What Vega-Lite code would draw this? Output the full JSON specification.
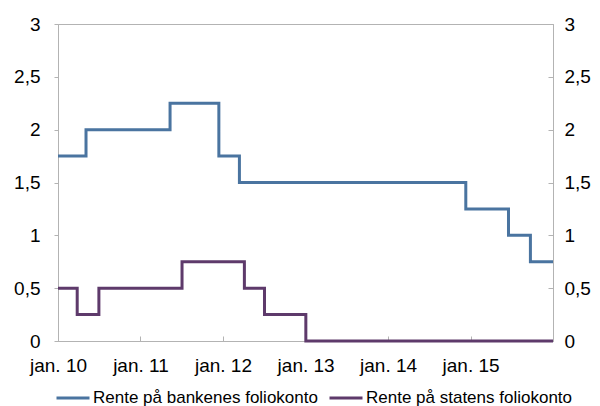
{
  "$schema": "https://vega.github.io/schema/vega-lite/v6.json",
  "autosize": {"type": "none"},
  "width": 495,
  "height": 317,
  "padding": {"left": 58, "top": 24, "right": 47, "bottom": 65},
  "data": {
    "values": [
      {"date": "2010-01-01", "rate": 1.75, "series": "Rente på bankenes foliokonto"},
      {"date": "2010-05-05", "rate": 2.0, "series": "Rente på bankenes foliokonto"},
      {"date": "2011-05-12", "rate": 2.25, "series": "Rente på bankenes foliokonto"},
      {"date": "2011-12-14", "rate": 1.75, "series": "Rente på bankenes foliokonto"},
      {"date": "2012-03-14", "rate": 1.5, "series": "Rente på bankenes foliokonto"},
      {"date": "2014-12-11", "rate": 1.25, "series": "Rente på bankenes foliokonto"},
      {"date": "2015-06-18", "rate": 1.0, "series": "Rente på bankenes foliokonto"},
      {"date": "2015-09-23", "rate": 0.75, "series": "Rente på bankenes foliokonto"},
      {"date": "2016-01-01", "rate": 0.75, "series": "Rente på bankenes foliokonto"},
      {"date": "2010-01-01", "rate": 0.5, "series": "Rente på statens foliokonto"},
      {"date": "2010-03-27", "rate": 0.25, "series": "Rente på statens foliokonto"},
      {"date": "2010-07-01", "rate": 0.5, "series": "Rente på statens foliokonto"},
      {"date": "2011-07-04", "rate": 0.75, "series": "Rente på statens foliokonto"},
      {"date": "2012-04-05", "rate": 0.5, "series": "Rente på statens foliokonto"},
      {"date": "2012-07-03", "rate": 0.25, "series": "Rente på statens foliokonto"},
      {"date": "2013-01-02", "rate": 0.0, "series": "Rente på statens foliokonto"},
      {"date": "2016-01-01", "rate": 0.0, "series": "Rente på statens foliokonto"}
    ]
  },
  "config": {
    "font": "Liberation Sans",
    "view": {"stroke": "#b3b3b3", "strokeWidth": 1},
    "axis": {
      "grid": false,
      "domainColor": "#b3b3b3",
      "tickColor": "#b3b3b3",
      "labelColor": "#000000",
      "labelFont": "Liberation Sans",
      "labelFontSize": 19,
      "title": null
    }
  },
  "encoding": {
    "x": {
      "field": "date",
      "type": "temporal",
      "scale": {"domain": ["2010-01-01", "2016-01-01"]},
      "axis": {
        "tickCount": {"interval": "year", "step": 1},
        "labelExpr": "year(datum.value) < 2016 ? 'jan. ' + timeFormat(datum.value, '%y') : ''",
        "tickSize": -5,
        "labelPadding": 20,
        "labelFlush": false,
        "labelOverlap": false
      }
    },
    "y": {
      "field": "rate",
      "type": "quantitative",
      "scale": {"domain": [0, 3], "nice": false},
      "axis": {
        "orient": "left",
        "values": [0, 0.5, 1, 1.5, 2, 2.5, 3],
        "labelExpr": "replace(format(datum.value, '~g'), '.', ',')",
        "tickSize": 4,
        "labelPadding": 14
      }
    }
  },
  "layer": [
    {
      "mark": {"type": "line", "interpolate": "step-after", "strokeWidth": 3},
      "encoding": {
        "color": {
          "field": "series",
          "type": "nominal",
          "scale": {
            "domain": ["Rente på bankenes foliokonto", "Rente på statens foliokonto"],
            "range": ["#4a74a0", "#5e3a6b"]
          },
          "legend": {
            "title": null,
            "orient": "none",
            "legendX": -3,
            "legendY": 356,
            "direction": "horizontal",
            "symbolType": "stroke",
            "symbolSize": 1089,
            "symbolStrokeWidth": 3,
            "labelFontSize": 17,
            "labelColor": "#000000",
            "labelFont": "Liberation Sans",
            "labelOffset": 2,
            "columnPadding": 5,
            "labelLimit": 400
          }
        }
      }
    },
    {
      "mark": {"type": "line", "interpolate": "step-after", "strokeWidth": 3, "opacity": 0},
      "encoding": {
        "detail": {"field": "series"},
        "y": {
          "field": "rate",
          "type": "quantitative",
          "scale": {"domain": [0, 3], "nice": false},
          "axis": {
            "orient": "right",
            "values": [0, 0.5, 1, 1.5, 2, 2.5, 3],
            "labelExpr": "replace(format(datum.value, '~g'), '.', ',')",
            "tickSize": -5,
            "labelPadding": 16
          }
        }
      }
    }
  ],
  "resolve": {"axis": {"y": "independent"}}
}
